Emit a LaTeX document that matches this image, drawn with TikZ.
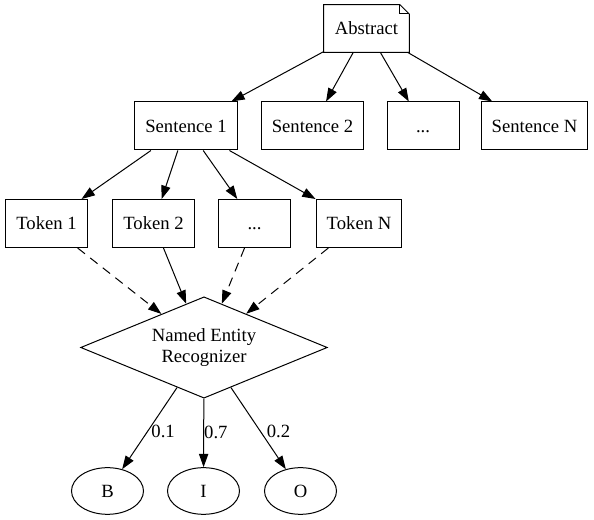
\documentclass[tikz,border=0pt]{standalone}
\usepackage{fontspec}
\setmainfont{Liberation Serif}
\usetikzlibrary{shapes.geometric,arrows.meta}

\begin{document}
\begin{tikzpicture}[x=0.75pt, y=-0.75pt, line width=0.75pt,
  font=\fontsize{14}{16}\selectfont,
  >={Triangle[length=10pt,width=7pt]},
  box/.style={draw, rectangle, minimum width=54pt, minimum height=36pt, inner xsep=8pt,
    text height=9.5pt, text depth=0pt},
  note/.style={rectangle, minimum width=54pt, minimum height=35pt, inner xsep=8pt},
  ner/.style={draw, diamond, aspect=2.4, inner sep=0pt, minimum width=185pt,
    minimum height=76pt, align=center},
  tag/.style={draw, ellipse, minimum width=54pt, minimum height=35pt},
  tok/.style={->, dash pattern=on 7pt off 5pt},
  prob/.style={right, inner sep=1pt}]
  \useasboundingbox (0,0) rectangle (594,520);

  \node[note] (abs) at (366.5, 28.5) {Abstract};
  \draw (abs.south west) -- (abs.north west) -- ([xshift=-7pt]abs.north east)
    -- ([yshift=-7pt]abs.north east) -- (abs.south east) -- cycle;
  \draw ([xshift=-7pt]abs.north east) |- ([yshift=-7pt]abs.north east);

  \node[box] (s1) at (186, 126) {Sentence 1};
  \node[box] (s2) at (312.5, 126) {Sentence 2};
  \node[box] (sd) at (423, 126) {...};
  \node[box] (sn) at (534.5, 126) {Sentence N};
  \draw[->] (abs) -- (s1);
  \draw[->] (abs) -- (s2);
  \draw[->] (abs) -- (sd);
  \draw[->] (abs) -- (sn);

  \node[box] (t1) at (46.5, 223.5) {Token 1};
  \node[box] (t2) at (153.5, 223.5) {Token 2};
  \node[box] (td) at (254.5, 223.5) {...};
  \node[box] (tn) at (359, 223.5) {Token N};
  \draw[->] (s1) -- (t1);
  \draw[->] (s1) -- (t2);
  \draw[->] (s1) -- (td);
  \draw[->] (s1) -- (tn);

  \node[ner] (ner) at (204, 347.5) {Named Entity\\Recognizer};
  \draw[tok] (t1) -- (ner);
  \draw[->] (t2) -- (ner);
  \draw[tok] (td) -- (ner);
  \draw[tok] (tn) -- (ner);

  \node[tag] (b) at (107.5, 491) {B};
  \node[tag] (i) at (203.5, 491) {I};
  \node[tag] (o) at (300.5, 491) {O};
  \draw[->] (ner) -- node[prob, yshift=-2pt] {0.1} (b);
  \draw[->] (ner) -- node[prob, inner sep=0pt] {0.7} (i);
  \draw[->] (ner) -- node[prob, xshift=5pt, yshift=-2pt] {0.2} (o);
\end{tikzpicture}
\end{document}
